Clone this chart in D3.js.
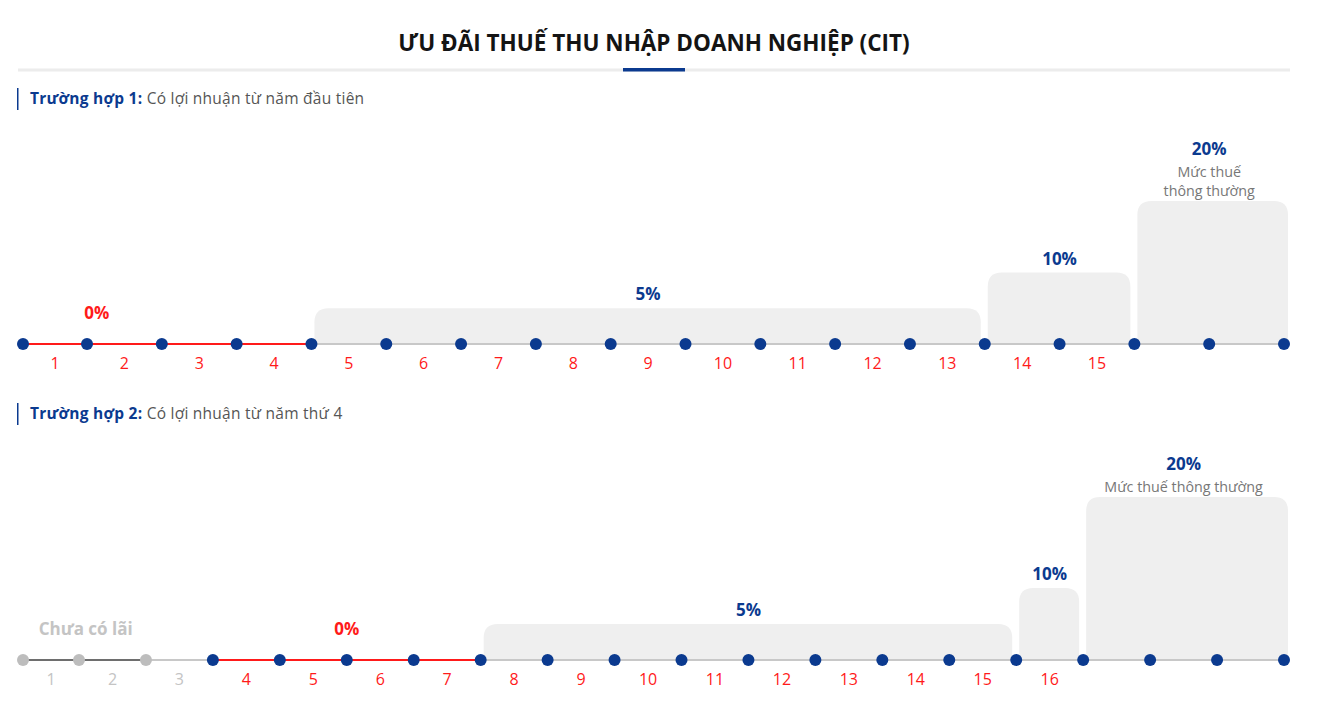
<!DOCTYPE html>
<html>
<head>
<meta charset="utf-8">
<script src="https://cdn.jsdelivr.net/npm/d3@7"></script>
<style>
  body { margin: 0; background: #fff; }
  svg { font-family: "Open Sans", "Noto Sans", sans-serif; }
</style>
</head>
<body>
<svg id="chart"></svg>
<script>
var width = 1318,
    height = 721;

var blue = "#0b3a8f",
    red = "#ff1a1a",
    lightGray = "#c8c8c8",
    boxGray = "#efefef";

// case 1
var case1Years = ["1","2","3","4","5","6","7","8","9","10","11","12","13","14","15","",""];
var case1Labels = ["0%", "5%", "10%", "20%"];
var case1Notes = [[], [], [], ["Mức thuế", "thông thường"]];
var case1Rates = [0, 5, 10, 20];
var case1From = [0, 4, 13, 15];
var case1To = [4, 13, 15, 17];
var case1LabelAt = [1.13, null, null, null];

// case 2
var case2Years = ["1","2","3","4","5","6","7","8","9","10","11","12","13","14","15","16","","",""];
var case2Labels = ["Chưa có lãi", "0%", "5%", "10%", "20%"];
var case2Notes = [[], [], [], [], ["Mức thuế thông thường"]];
var case2Rates = [null, 0, 5, 10, 20];
var case2From = [0, 3, 7, 15, 16];
var case2To = [3, 7, 15, 16, 19];
var case2LabelAt = [1.1, null, null, null, null];

var chart = d3.select("#chart")
    .attr("width", width)
    .attr("height", height);

// title
chart.append("text")
    .attr("x", 654).attr("y", 51)
    .attr("text-anchor", "middle")
    .attr("font-size", 22.5).attr("font-weight", 700)
    .attr("fill", "#141414")
    .text("ƯU ĐÃI THUẾ THU NHẬP DOANH NGHIỆP (CIT)");
chart.append("rect").attr("x", 18).attr("y", 68.5).attr("width", 1272).attr("height", 3).attr("fill", "#ececec");
chart.append("rect").attr("x", 623).attr("y", 68).attr("width", 62).attr("height", 3.5).attr("fill", blue);

function header(y, bold, rest) {
  chart.append("rect").attr("x", 17).attr("y", y - 11).attr("width", 1.5).attr("height", 22).attr("fill", blue);
  var t = chart.append("text").attr("x", 30).attr("y", y + 5)
    .attr("font-size", 15.5).attr("letter-spacing", 0.25);
  t.append("tspan").attr("font-weight", 700).attr("fill", blue).text(bold);
  t.append("tspan").attr("fill", "#555").text(" " + rest);
}

function roundTop(x0, x1, y0, y1, r) {
  return "M" + x0 + "," + y1 + "V" + (y0 + r) +
    "Q" + x0 + "," + y0 + " " + (x0 + r) + "," + y0 +
    "H" + (x1 - r) + "Q" + x1 + "," + y0 + " " + x1 + "," + (y0 + r) +
    "V" + y1 + "Z";
}

function timeline(opt) {
  var n = opt.years.length;
  var x = d3.scaleLinear().domain([0, 1, n]).range([23, opt.second, 1284]);
  var h = d3.scaleLinear().domain(opt.hDomain).range(opt.hRange);
  var base = opt.base;
  var g = chart.append("g");

  // boxes
  opt.rates.forEach(function(r, i) {
    if (r === null || r === 0) return;
    var x0 = x(opt.from[i]) + 3,
        x1 = opt.to[i] === n ? x(n) + 4 : x(opt.to[i]) - 4;
    g.append("path")
      .attr("d", roundTop(x0, x1, base - h(r), base, 14))
      .attr("fill", boxGray);
  });

  // base line segments
  d3.range(n).forEach(function(i) {
    var col = lightGray;
    opt.rates.forEach(function(r, k) {
      if (i >= opt.from[k] && i < opt.to[k]) {
        if (r === 0) col = red;
        if (r === null) col = i < opt.to[k] - 1 ? "#6e6e6e" : lightGray;
      }
    });
    g.append("line")
      .attr("x1", x(i)).attr("x2", x(i + 1))
      .attr("y1", base).attr("y2", base)
      .attr("stroke", col).attr("stroke-width", 2);
  });

  // dots
  var grayEnd = opt.rates[0] === null ? opt.to[0] : 0;
  g.selectAll(".dot").data(d3.range(n + 1)).enter()
    .append("circle")
      .attr("cx", function(d) { return x(d); })
      .attr("cy", base)
      .attr("r", 6)
      .attr("fill", function(d) { return d < grayEnd ? "#bdbdbd" : blue; });

  // year labels
  g.selectAll(".year").data(opt.years).enter()
    .append("text")
      .attr("x", function(d, i) { return (x(i) + x(i + 1)) / 2; })
      .attr("y", base + 25)
      .attr("text-anchor", "middle")
      .attr("font-size", 16)
      .attr("fill", function(d, i) { return i < grayEnd ? "#c4c4c4" : red; })
      .text(function(d) { return d; });

  // period labels
  opt.labels.forEach(function(lab, i) {
    var r = opt.rates[i];
    var cx = opt.labelAt[i] !== null ? x(opt.labelAt[i]) : (x(opt.from[i]) + x(opt.to[i])) / 2;
    var top = (r === null || r === 0) ? base - 31 : base - h(r) - 14;
    var notes = opt.notes[i];
    var ly = top - notes.length * 19;
    g.append("text")
      .attr("x", cx).attr("y", ly + 6)
      .attr("text-anchor", "middle")
      .attr("font-size", 17).attr("font-weight", 700)
      .attr("fill", r === null ? "#c4c4c4" : (r === 0 ? red : blue))
      .text(lab);
    notes.forEach(function(s, k) {
      g.append("text")
        .attr("x", cx).attr("y", ly + 28 + k * 19)
        .attr("text-anchor", "middle")
        .attr("font-size", 14.3)
        .attr("fill", "#777")
        .text(s);
    });
  });
}

header(99, "Trường hợp 1:", "Có lợi nhuận từ năm đầu tiên");
timeline({
  years: case1Years, labels: case1Labels, notes: case1Notes, rates: case1Rates,
  from: case1From, to: case1To, labelAt: case1LabelAt,
  second: 87, base: 344, hDomain: [0, 20], hRange: [0, 143]
});

header(414, "Trường hợp 2:", "Có lợi nhuận từ năm thứ 4");
timeline({
  years: case2Years, labels: case2Labels, notes: case2Notes, rates: case2Rates,
  from: case2From, to: case2To, labelAt: case2LabelAt,
  second: 79, base: 660, hDomain: [0, 10, 20], hRange: [0, 72, 163]
});
</script>
</body>
</html>
